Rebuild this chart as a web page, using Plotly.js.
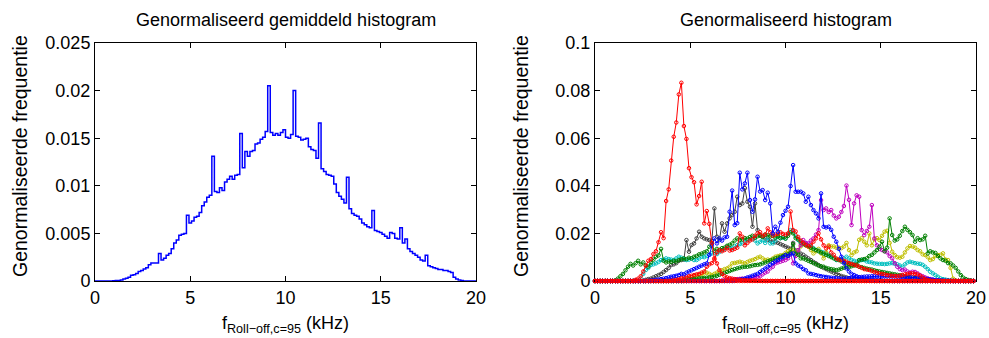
<!DOCTYPE html>
<html><head><meta charset="utf-8">
<script src="https://cdn.plot.ly/plotly-3.0.1.min.js"></script>
<style>html,body{margin:0;padding:0;background:#fff}#chart{width:989px;height:338px}</style>
</head><body><div id="chart"></div>
<script>
// bin width in kHz (150 bins over 0..20 kHz)
const binWidth = 20/150;

// left: normalised mean histogram (151 stair edges, last closes the plot)
const meanHist = [
0,0,0,0,0,0,0,.00002,.00004,.00006,
.0001,.0002,.0003,.0004,.0006,.00065,.0008,.001,.0011,.00125,
.0014,.0017,.0019,.0019,.0019,.0029,.0022,.0024,.0027,.0029,
.0034,.004,.0043,.0048,.0049,.005,.0069,.0061,.0063,.0067,
.0068,.0072,.0079,.0083,.0088,.009,.0131,.0094,.0093,.0098,
.0095,.0104,.0107,.011,.0107,.0111,.0112,.0155,.0119,.0136,
.0131,.0136,.0137,.0144,.0145,.0149,.0151,.0157,.0205,.0156,
.0153,.0155,.0153,.0156,.0159,.0151,.015,.0154,.02,.0152,
.0151,.0148,.0149,.015,.0141,.0138,.0137,.0129,.0166,.0118,
.0115,.0112,.0111,.011,.0102,.0093,.0089,.0086,.0082,.0109,
.0076,.0071,.0069,.0068,.0065,.0061,.0059,.0057,.0056,.0074,
.0053,.0052,.0051,.0049,.0047,.0045,.0051,.005,.0045,.0044,
.0056,.004,.0044,.0034,.0031,.0029,.0027,.0025,.0022,.0021,
.0027,.0016,.0015,.0014,.0013,.0012,.0012,.0011,.0011,.001,
.0009,.0004,.0002,.0001,.00005,0,0,0,0,0,
0];

// right: individual normalised histograms (150 bins each)
const greyA = [
0,0,0,0,0,0,0,0,0,0, 0,0,0,0,0,0,0,0,0,0,
.0005,.0008,.001,.0015,.002,.0025,.003,.0038,.0046,.0055,
.0067,.007,.0075,.0085,.0088,.009,.0172,.0123,.0151,.0158,
.0179,.0207,.0186,.0179,.0175,.0172,.0168,.0305,.0186,.0172,
.0242,.0207,.0242,.0263,.0277,.0291,.0354,.0319,.0326,.039,
.0333,.0312,.0228,.0326,.0214,.0193,.0185,.0179,.0172,.017,
.0165,.0163,.016,.0155,.015,.0145,.014,.0135,.016,.0128,
.012,.0115,.011,.0102,.0095,.0088,.008,.0074,.0067,.006,
.0055,.005,.0045,.004,.0035,.003,.0025,.0021,.0018,.0015,
.0012,.001,.0008,.0006,.0005,.0004,.0003,.0002,.0002,.0001,
0,0,0,0,0,0,0,0,0,0, 0,0,0,0,0,0,0,0,0,0,
0,0,0,0,0,0,0,0,0,0, 0,0,0,0,0,0,0,0,0,0];

const cyanA = [
0,0,0,0,0,0,0,0,0,0, 0,0,0,0,0,0,0,0,.001,.003,
.0046,.0055,.0067,.007,.0074,.008,.0088,.009,.0095,.0092,
.009,.0088,.0095,.0102,.0098,.0092,.0088,.009,.0095,.0088,
.0088,.0095,.0102,.01,.0105,.011,.0116,.012,.0113,.0122,
.013,.0135,.0144,.014,.0137,.0145,.0151,.0155,.0158,.0165,
.0172,.0175,.0179,.017,.0158,.0165,.0172,.016,.018,.0158,
.0158,.017,.0186,.018,.0182,.0179,.0198,.0214,.021,.0186,
.0172,.0165,.016,.0158,.015,.0144,.0138,.013,.0128,.0123,
.012,.0116,.011,.0105,.0098,.0088,.009,.0092,.0095,.0102,
.0095,.0088,.0085,.0081,.0085,.0088,.0088,.0082,.008,.0078,
.0074,.0073,.0072,.0072,.0071,.0072,.0074,.0075,.0072,.007,
.0065,.006,.007,.0078,.0081,.0078,.0075,.0073,.0072,.0068,
.006,.005,.0039,.0032,.0025,.0018,.0011,.0008,.0006,.0004,
.0002,.0001,0,0,0,0,0,0,0,0];

const yellowA = [
0,0,0,0,0,0,0,0,0,0, 0,0,0,0,0,0,0,0,0,0,
0,0,0,0,0,0,0,0,0,0, 0,0,0,0,0,0,0,.001,.0015,.002,
.0022,.0025,.003,.0032,.0035,.003,.0025,.003,.0035,.004,
.0045,.005,.0053,.006,.0074,.0076,.0078,.0081,.0078,.0074,
.008,.0085,.0088,.0092,.0098,.0102,.0095,.0088,.009,.0088,
.0095,.0102,.0105,.0108,.0109,.0118,.0125,.013,.0128,.0123,
.013,.0145,.0158,.015,.0144,.013,.0116,.0125,.0135,.0116,
.0095,.012,.015,.0145,.0145,.014,.014,.0138,.0145,.016,
.013,.0109,.012,.0125,.0173,.018,.0165,.015,.02,.015,
.0175,.018,.0172,.019,.0207,.0211,.016,.0123,.0109,.01,
.0098,.0102,.012,.0137,.0147,.0145,.014,.013,.0125,.0112,
.0109,.01,.0088,.0092,.0105,.0109,.011,.0116,.009,.0088,
.0055,.001,.0003,0,0,0,0,0,0];

const greenA = [
0,0,0,0,0,0,0,0,.0003,.001, .002,.003,.0045,.006,.0072,.0065,.0075,.0085,.007,.0078,
.0065,.006,.0078,.009,.0102,.0108,.0135,.0085,.0078,.0082,
.008,.0085,.0082,.0088,.0091,.0095,.0092,.0098,.0095,.0102,
.0105,.0112,.0115,.012,.0125,.0144,.0158,.0127,.0135,.013,
.0138,.014,.0148,.0152,.0158,.017,.0179,.0172,.0175,.018,
.0178,.0185,.019,.0182,.0188,.019,.0185,.0195,.0192,.0188,
.019,.0182,.0188,.018,.0185,.0178,.019,.0205,.02,.018,
.0175,.016,.0155,.015,.0148,.014,.0135,.013,.0125,.012,
.0115,.011,.0105,.01,.0095,.009,.0088,.0082,.008,.0075,
.0072,.007,.0068,.0065,.006,.0058,.0055,.0052,.005,.0048,
.0045,.0042,.004,.0038,.0036,.0034,.0032,.003,.0028,.0026,
.0024,.0022,.002,.0018,.0016,.0014,.0012,.001,.0008,.0006,
.0004,.0003,.0002,.0001,0,0,0,0,0,0, 0,0,0,0,0,0,0,0,0,0];

const magentaA = [
0,0,0,0,0,0,0,0,0,0, 0,0,0,0,0,0,0,0,0,0,
0,0,0,0,0,0,0,0,0,0, 0,0,0,0,0,0,0,0,0,0,
0,0,0,0,0,0,0,0,0,0, .0002,.0003,.0004,.0005,.0006,.0007,.0008,.0009,.001,.001,
.001,.0012,.0014,.0016,.0018,.002,.0028,.0035,.004,.0053,
.006,.0074,.0078,.0081,.0085,.0088,.0095,.0116,.0074,.0105,
.013,.015,.0172,.016,.0158,.017,.0179,.0195,.0214,.034,
.0298,.0305,.029,.0298,.0275,.0263,.027,.029,.0315,.0401,
.0341,.0235,.0326,.036,.0354,.0214,.0193,.021,.0228,.0319,
.0179,.015,.0135,.013,.0125,.012,.0105,.0095,.0075,.006,
.005,.0046,.0048,.004,.0035,.0039,.0038,.0032,.0025,.002,
.0015,.0011,.0008,.0005,.0003,.0002,.0001,0,0,0, 0,0,0,0,0,0,0,0,0,0];

const greenB = [
0,0,0,0,0,0,0,0,0,0, 0,0,0,0,0,0,0,0,0,0,
0,0,0,0,0,0,0,0,0,0, 0,0,0,0,0,.0005,.0006,.0007,.0008,.0009,
.001,.0011,.0012,.0013,.0014,.0015,.0017,.0019,.0022,.0026,
.003,.0034,.0038,.0042,.0046,.005,.0053,.0056,.0058,.006,
.006,.0062,.0065,.0067,.0068,.007,.0074,.0078,.0082,.0086,
.009,.0095,.0098,.0102,.0105,.011,.0112,.012,.0155,.0115,
.011,.0095,.0095,.009,.0085,.008,.0075,.007,.0065,.0062,
.006,.0055,.0052,.005,.0048,.0046,.0048,.0052,.0056,.006,
.0058,.0062,.0065,.007,.0088,.009,.0092,.0095,.0105,.011,
.012,.013,.0144,.0165,.0125,.014,.0263,.0193,.017,.0175,
.019,.021,.0228,.0215,.0205,.0193,.0165,.018,.0172,.0175,
.019,.0116,.0125,.012,.0118,.0105,.0095,.0088,.0085,.0075,
.0074,.0065,.0055,.004,.0025,.0014,.0008,.0004,.0002,0];

const blueB = [
0,0,0,0,0,0,0,0,0,0, 0,0,0,0,0,0,0,0,0,0,
0,0,0,0,0,0,0,0,0,0, 0,0,0,0,0,0,0,0,0,0,
0,0,0,0,0,0,0,0,0,0, 0,0,0,0,0,.0002,.0004,.0006,.0008,.001,
.0015,.0018,.0022,.0026,.003,.0038,.0045,.0052,.006,.0068,
.0075,.0082,.0088,.0095,.01,.0109,.0105,.0112,.0116,.0074,
.0065,.006,.005,.0045,.0032,.003,.0028,.0025,.0022,.002,
.0018,.0017,.0015,.0014,.0013,.0012,.0011,.001,.001,.0011,
.0012,.0013,.0014,.0015,.0016,.0017,.0018,.0019,.0019,.002,
.002,.002,.002,.002,.0021,.002,.002,.0019,.0019,.0018,
.0018,.0017,.0017,.0016,.0016,.0015,.0014,.0013,.0012,.0011,
.001,.0008,.0007,.0006,.0004,.0003,.0003,.0002,.0001,.0001,
.0001,0,0,0,0,0,0,0,0,0];

const redB = [
0,0,0,0,0,0,0,0,0,0, 0,0,0,0,0,0,0,0,0,0,
0,0,0,0,0,0,0,0,0,0,
.0005,.0006,.0008,.001,.0012,.0015,.0018,.002,.0022,.0025,
.0028,.003,.0035,.004,.006,.007,.0075,.009,.012,.013,
.0125,.013,.014,.0128,.013,.0135,.014,.02,.0186,.015,
.016,.017,.0175,.019,.02,.0205,.019,.0195,.0221,.0205,
.019,.0195,.0198,.0205,.0198,.0195,.02,.0292,.0214,.0208,
.0185,.017,.016,.0152,.0145,.015,.0165,.0179,.02,.0175,
.015,.0137,.0145,.012,.011,.0095,.009,.0088,.0085,.0081,
.0075,.0072,.0068,.0065,.006,.0055,.005,.0048,.0046,.0042,
.0038,.0035,.0032,.003,.0028,.0025,.0023,.0022,.0021,.002,
.0022,.0025,.0028,.003,.0032,.0032,.003,.0028,.0022,.0015,
.0008,.0004,.0002,0,0,0,0,0,0,0, 0,0,0,0,0,0,0,0,0,0];

const blueA = [
0,0,0,0,0,0,0,0,0,0, 0,0,0,0,0,0,0,0,0,0,
0,0,.0002,.0003,.0005,.0006,.0008,.001,.0012,.0015,
.0018,.002,.0022,.0025,.003,.0028,.0035,.004,.0045,.005,
.0055,.006,.0065,.007,.0074,.011,.015,.0179,.0158,.0179,
.017,.0183,.0186,.0291,.038,.0235,.0243,.0455,.0385,.041,
.0455,.034,.0291,.0343,.0438,.0376,.0382,.034,.0371,.0326,
.02,.0228,.0207,.0245,.0277,.0295,.0312,.0399,.0487,.0375,
.0375,.0375,.0368,.0333,.0354,.0319,.0298,.0284,.0263,.0368,
.0228,.0225,.0228,.0215,.0186,.0165,.0135,.0102,.0075,.0053,
.004,.003,.0025,.002,.0015,.0012,.001,.0008,.0006,.0005,
.0004,.0003,.0003,.0002,.0002,.0001,.0001,0,0,0,
0,0,0,0,0,0,0,0,0,0, 0,0,0,0,0,0,0,0,0,0, 0,0,0,0,0,0,0,0,0,0];

const redA = [
0,0,0,0,0,0,0,0,0,0, 0,0,0,0,0,0,.0005,.001,.002,.004,
.0065,.0085,.0092,.0113,.0125,.0163,.0205,.018,.0336,.0385,
.0506,.0606,.0666,.0784,.0833,.0651,.0597,.0474,.0436,.0415,
.0322,.0357,.0417,.0242,.0294,.024,.016,.0095,.0074,.0046,
.003,.002,.0015,.0012,.001,.0008,.0006,.0005,.0004,.0003,
.0003,.0002,.0002,.0001,.0001,.0001,0,0,0,0,
0,0,0,0,0,0,0,0,0,0, 0,0,0,0,0,0,0,0,0,0,
0,0,0,0,0,0,0,0,0,0, 0,0,0,0,0,0,0,0,0,0,
0,0,0,0,0,0,0,0,0,0, 0,0,0,0,0,0,0,0,0,0,
0,0,0,0,0,0,0,0,0,0, 0,0,0,0,0,0,0,0,0,0];

const redZero = [
0,0,0,0,0,0,0,0,0,0, 0,0,0,0,0,0,0,0,0,0,
0,0,0,0,0,0,0,0,0,0, 0,0,0,0,0,0,0,0,0,0,
0,0,0,0,0,0,0,0,0,0, 0,0,0,0,0,0,0,0,0,0,
0,0,0,0,0,0,0,0,0,0, 0,0,0,0,0,0,0,0,0,0,
0,0,0,0,0,0,0,0,0,0, 0,0,0,0,0,0,0,0,0,0,
0,0,0,0,0,0,0,0,0,0, 0,0,0,0,0,0,0,0,0,0,
0,0,0,0,0,0,0,0,0,0, 0,0,0,0,0,0,0,0,0,0,
0,0,0,0,0,0,0,0,0,0];

const seriesList = [
  {y: greyA,    c: '#404040'},
  {y: cyanA,    c: '#00BFBF'},
  {y: yellowA,  c: '#BFBF00'},
  {y: greenA,   c: '#008000'},
  {y: magentaA, c: '#BF00BF'},
  {y: greenB,   c: '#008000'},
  {y: blueB,    c: '#0000FF'},
  {y: redB,     c: '#FF0000'},
  {y: blueA,    c: '#0000FF'},
  {y: redA,     c: '#FF0000'},
  {y: redZero,  c: '#FF0000'}
];

const titles = ['Genormaliseerd gemiddeld histogram', 'Genormaliseerd histogram'];
const yLabel = 'Genormaliseerde frequentie';
const xLabel = 'f<sub>Roll\u2212off,c=95</sub> (kHz)';

const FONT = 'Liberation Sans, Arial, Helvetica, sans-serif';

const traces = [{
  type: 'scatter', mode: 'lines', x0: 0, dx: binWidth, y: meanHist,
  line: {color: '#0000FF', width: 1.5, shape: 'hv'},
  xaxis: 'x', yaxis: 'y', hoverinfo: 'skip'
}];
seriesList.forEach(s => traces.push({
  type: 'scatter', mode: 'lines+markers', x0: 0, dx: binWidth, y: s.y,
  line: {color: s.c, width: 1},
  marker: {symbol: 'circle-open', size: 3.5, color: s.c, line: {width: 1, color: s.c}},
  xaxis: 'x2', yaxis: 'y2', cliponaxis: false, hoverinfo: 'skip'
}));

const W = 989, H = 338;
const L1 = 95, R1 = 476, L2 = 595, R2 = 976, T = 43, B = 281;
const axBase = {
  showline: true, linecolor: '#000', linewidth: 1, mirror: 'ticks',
  ticks: 'inside', ticklen: 5, tickcolor: '#000', tickwidth: 1,
  showgrid: false, zeroline: false, layer: 'below traces',
  tickfont: {family: FONT, size: 18, color: '#000'}
};
const xa = Object.assign({}, axBase, {range: [0, 20], dtick: 5, tick0: 0});
const yd = [(H - B) / H, (H - T) / H];

const layout = {
  width: W, height: H, margin: {l: 0, r: 0, t: 0, b: 0},
  paper_bgcolor: '#fff', plot_bgcolor: '#fff', showlegend: false,
  font: {family: FONT, size: 18, color: '#000'},
  xaxis: Object.assign({}, xa, {domain: [L1 / W, R1 / W], anchor: 'y'}),
  yaxis: Object.assign({}, axBase, {domain: yd, range: [0, 0.025], dtick: 0.005, anchor: 'x'}),
  xaxis2: Object.assign({}, xa, {domain: [L2 / W, R2 / W], anchor: 'y2'}),
  yaxis2: Object.assign({}, axBase, {domain: yd, range: [0, 0.1], dtick: 0.02, anchor: 'x2'}),
  annotations: [
    {text: titles[0], x: (L1 + R1) / 2 / W, y: (H - 20) / H, xref: 'paper', yref: 'paper', showarrow: false, xanchor: 'center', yanchor: 'middle', font: {size: 18}},
    {text: titles[1], x: (L2 + R2) / 2 / W, y: (H - 20) / H, xref: 'paper', yref: 'paper', showarrow: false, xanchor: 'center', yanchor: 'middle', font: {size: 18}},
    {text: yLabel, x: 20 / W, y: (H - 156) / H, xref: 'paper', yref: 'paper', showarrow: false, textangle: -90, xanchor: 'center', yanchor: 'middle', font: {size: 19.5}},
    {text: yLabel, x: 521 / W, y: (H - 156) / H, xref: 'paper', yref: 'paper', showarrow: false, textangle: -90, xanchor: 'center', yanchor: 'middle', font: {size: 19.5}},
    {text: xLabel, x: (L1 + R1) / 2 / W, y: (H - 324) / H, xref: 'paper', yref: 'paper', showarrow: false, xanchor: 'center', yanchor: 'middle', font: {size: 18}},
    {text: xLabel, x: (L2 + R2) / 2 / W, y: (H - 324) / H, xref: 'paper', yref: 'paper', showarrow: false, xanchor: 'center', yanchor: 'middle', font: {size: 18}}
  ]
};

Plotly.newPlot('chart', traces, layout, {staticPlot: true, displayModeBar: false});
</script>
</body></html>
